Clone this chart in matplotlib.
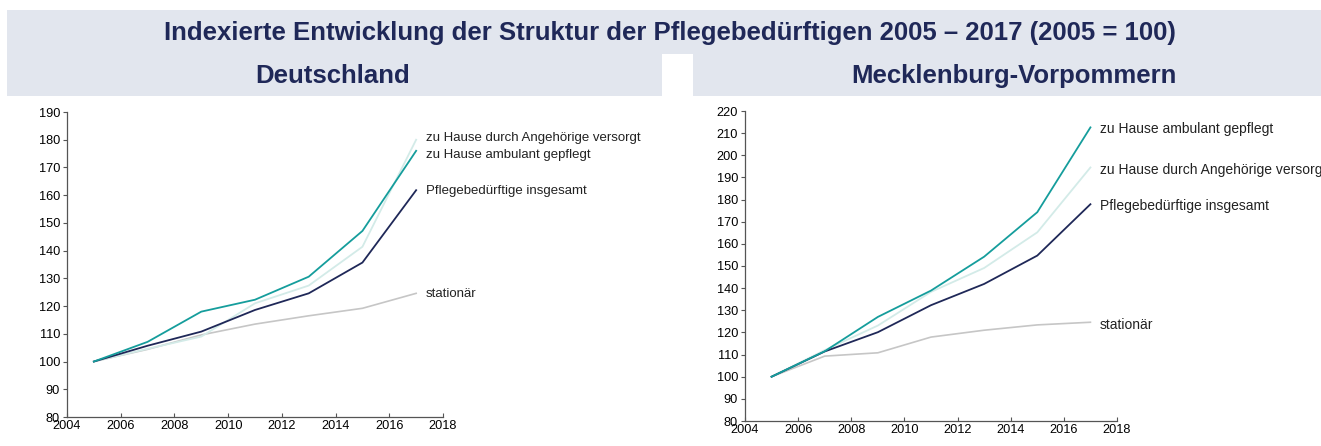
import numpy as np
import matplotlib.pyplot as plt
from matplotlib.patches import Rectangle

plt.rcParams['font.family'] = ['Liberation Sans', 'DejaVu Sans']

# Daten (Index 2005 = 100)
jahre = [2005, 2007, 2009, 2011, 2013, 2015, 2017]

de_ambulant = [100, 107.1, 118.0, 122.3, 130.6, 147.1, 176.0]
de_angehoerige = [100, 104.6, 109.0, 121.0, 127.4, 141.4, 180.0]
de_insgesamt = [100, 105.7, 110.8, 118.6, 124.6, 135.7, 161.8]
de_stationaer = [100, 104.4, 109.6, 113.5, 116.5, 119.2, 124.6]

mv_ambulant = [100, 111.5, 127.0, 138.9, 154.2, 174.3, 212.6]
mv_angehoerige = [100, 112.0, 123.1, 138.3, 149.1, 165.2, 194.5]
mv_insgesamt = [100, 111.4, 120.1, 132.3, 141.9, 154.7, 177.9]
mv_stationaer = [100, 109.3, 110.8, 117.9, 121.0, 123.4, 124.6]

titel = "Indexierte Entwicklung der Struktur der Pflegebedürftigen 2005 – 2017 (2005 = 100)"

farbe_teal = '#159d9c'
farbe_navy = '#1f2858'
farbe_hell = '#d3ebe8'
farbe_grau = '#c6c6c6'
farbe_titel = '#1f2858'
farbe_band = '#e2e6ee'

W, H = 1321, 446
fig = plt.figure(figsize=(W / 100, H / 100), dpi=100)


def rect_px(x0, y0, x1, y1):
    # Pixel-Koordinaten von oben links
    fig.patches.append(Rectangle((x0 / W, 1 - y1 / H), (x1 - x0) / W, (y1 - y0) / H,
                                 transform=fig.transFigure, facecolor=farbe_band,
                                 edgecolor='none', zorder=0))


rect_px(7, 10, W, 54)
rect_px(7, 53, 662, 96)
rect_px(693, 53, W, 96)

fig.text(670 / W, 1 - 33 / H, titel, ha='center', va='center', fontsize=18.5,
         fontweight='bold', color=farbe_titel)
fig.text(333 / W, 1 - 76 / H, "Deutschland", ha='center', va='center', fontsize=18.5,
         fontweight='bold', color=farbe_titel)
fig.text(1014 / W, 1 - 76 / H, "Mecklenburg-Vorpommern", ha='center', va='center',
         fontsize=18.5, fontweight='bold', color=farbe_titel)


def diagramm(ax, serien, labels, ymax, lsize):
    for werte, farbe, lw in serien:
        ax.plot(jahre, werte, color=farbe, lw=lw, solid_joinstyle='miter')
    for text, y in labels:
        ax.text(2017.35, y, text, fontsize=lsize, va='center', ha='left',
                color='#222222', clip_on=False)
    ax.set_xlim(2004, 2018)
    ax.set_ylim(80, ymax)
    ax.set_xticks(range(2004, 2019, 2))
    ax.set_yticks(range(80, ymax + 1, 10))
    for s in ['top', 'right']:
        ax.spines[s].set_visible(False)
    for s in ['left', 'bottom']:
        ax.spines[s].set_color('#555555')
        ax.spines[s].set_linewidth(0.9)
    ax.tick_params(axis='x', direction='in', length=3, color='#555555',
                   labelsize=9.2, pad=2)
    ax.tick_params(axis='y', direction='out', length=3, color='#555555',
                   labelsize=9.2, pad=2)


ax1 = fig.add_axes([67 / W, (H - 417) / H, 376 / W, 305 / H])
diagramm(ax1,
         [(de_stationaer, farbe_grau, 1.2), (de_angehoerige, farbe_hell, 1.3),
          (de_insgesamt, farbe_navy, 1.3), (de_ambulant, farbe_teal, 1.3)],
         [("zu Hause durch Angehörige versorgt", 180.8),
          ("zu Hause ambulant gepflegt", 174.6),
          ("Pflegebedürftige insgesamt", 161.6),
          ("stationär", 124.3)],
         190, 9.5)

ax2 = fig.add_axes([745 / W, (H - 421) / H, 372 / W, 310 / H])
diagramm(ax2,
         [(mv_stationaer, farbe_grau, 1.2), (mv_angehoerige, farbe_hell, 1.3),
          (mv_insgesamt, farbe_navy, 1.3), (mv_ambulant, farbe_teal, 1.3)],
         [("zu Hause ambulant gepflegt", 211.7),
          ("zu Hause durch Angehörige versorgt", 193.4),
          ("Pflegebedürftige insgesamt", 176.9),
          ("stationär", 123.3)],
         220, 10)

fig.savefig('out.png', dpi=100)
